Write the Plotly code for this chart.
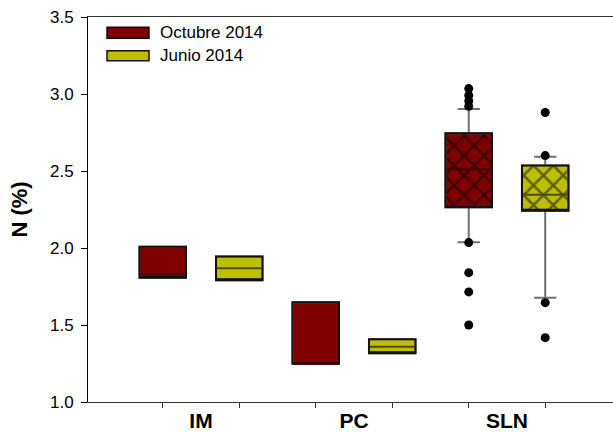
import plotly.graph_objects as go

# Sites and sampling campaigns
sites = ["IM", "PC", "SLN"]
series_names = ["Octubre 2014", "Junio 2014"]

# Box statistics of N (%) per site — October 2014
oct_q1 = [1.807, 1.249, 2.264]
oct_median = [1.829, 1.249, 2.511]
oct_q3 = [2.008, 1.647, 2.745]
oct_lower = [1.807, 1.249, 2.037]
oct_upper = [2.008, 1.647, 2.903]
oct_outliers_sln = [3.035, 2.99, 2.955, 2.92, 2.035, 1.84, 1.715, 1.50]

# Box statistics of N (%) per site — June 2014
jun_q1 = [1.790, 1.316, 2.242]
jun_median = [1.868, 1.359, 2.346]
jun_q3 = [1.944, 1.407, 2.535]
jun_lower = [1.790, 1.316, 1.677]
jun_upper = [1.944, 1.407, 2.593]
jun_outliers_sln = [2.88, 2.60, 1.645, 1.418]

RED = "#800000"
YEL = "#BDBF00"
RED_MED = "#4a0000"
YEL_MED = "#4d4d00"
WHISKER = "#707070"
BOX_W = 0.304
OFFSET = 0.25
FONT = "Liberation Sans, Arial, sans-serif"

centers = [i + 1 for i in range(len(sites))]
oct_x = [c - OFFSET for c in centers]
jun_x = [c + OFFSET for c in centers]

# hatching only on the SLN boxes
hatch = ["", "", "x"]

series = [
    dict(name=series_names[0], x=oct_x, q1=oct_q1, med=oct_median, q3=oct_q3,
         lo=oct_lower, hi=oct_upper, color=RED, medcolor=RED_MED,
         out=oct_outliers_sln),
    dict(name=series_names[1], x=jun_x, q1=jun_q1, med=jun_median, q3=jun_q3,
         lo=jun_lower, hi=jun_upper, color=YEL, medcolor=YEL_MED,
         out=jun_outliers_sln),
]

fig = go.Figure()

# Box bodies as bars (fill + crosshatch)
for s in series:
    fig.add_trace(go.Bar(
        x=s["x"], y=[b - a for a, b in zip(s["q1"], s["q3"])], base=s["q1"],
        width=BOX_W, showlegend=False, hoverinfo="skip",
        marker=dict(color=s["color"], line=dict(width=0),
                    pattern=dict(shape=hatch, size=14, solidity=0.32,
                                 fgcolor="black", fillmode="overlay")),
    ))

# Whiskers with caps (grey)
for s in series:
    fig.add_trace(go.Box(
        x=s["x"], q1=s["q1"], median=s["q1"], q3=s["q3"],
        lowerfence=s["lo"], upperfence=s["hi"], width=BOX_W,
        whiskerwidth=0.48, fillcolor="rgba(0,0,0,0)",
        line=dict(color=WHISKER, width=2), showlegend=False, hoverinfo="skip",
    ))

# Box outlines (black)
for s in series:
    fig.add_trace(go.Box(
        x=s["x"], q1=s["q1"], median=s["q1"], q3=s["q3"],
        lowerfence=s["q1"], upperfence=s["q3"], width=BOX_W,
        fillcolor="rgba(0,0,0,0)", line=dict(color="#111111", width=2),
        showlegend=False, hoverinfo="skip",
    ))

# Median lines
for s in series:
    fig.add_trace(go.Box(
        x=s["x"], q1=s["med"], median=s["med"], q3=s["med"],
        lowerfence=s["med"], upperfence=s["med"], width=BOX_W - 0.01,
        fillcolor="rgba(0,0,0,0)", line=dict(color=s["medcolor"], width=2),
        showlegend=False, hoverinfo="skip",
    ))

# Outlying points for SLN
for s in series:
    fig.add_trace(go.Scatter(
        x=[s["x"][2]] * len(s["out"]), y=s["out"], mode="markers",
        marker=dict(color="black", size=9), showlegend=False, hoverinfo="skip",
    ))

# Legend drawn as swatches + text
legend_rows = [(0.9447, 0.9732), (0.8865, 0.9125)]
for s, (y0, y1) in zip(series, legend_rows):
    fig.add_shape(type="rect", xref="paper", yref="paper",
                  x0=0.0362, x1=0.1162, y0=y0, y1=y1,
                  fillcolor=s["color"], line=dict(color="#111111", width=1.5))
    fig.add_annotation(xref="paper", yref="paper", x=0.1333, y=(y0 + y1) / 2,
                       text=s["name"], showarrow=False, xanchor="left",
                       yanchor="middle", font=dict(size=17, color="black", family=FONT))

fig.update_layout(
    width=613, height=432,
    margin=dict(l=88, r=0, t=17, b=30),
    paper_bgcolor="white", plot_bgcolor="white",
    barmode="overlay", boxmode="overlay",
    showlegend=False,
    font=dict(family=FONT, color="black"),
    xaxis=dict(
        range=[0.2614, 3.693], tickmode="array", tickvals=centers, ticktext=sites,
        ticks="", showgrid=False, zeroline=False, automargin=False,
        showline=True, linecolor="#333333", linewidth=1, mirror=True,
        tickfont=dict(size=21, weight="bold", family=FONT, color="black"),
        ticklabelstandoff=0,
        minor=dict(tickmode="array", tickvals=sorted(oct_x + jun_x),
                   ticks="outside", ticklen=5, tickcolor="#333333", tickwidth=1,
                   showgrid=False),
    ),
    yaxis=dict(
        range=[1.0, 3.5], tickmode="array",
        tickvals=[1.0, 1.5, 2.0, 2.5, 3.0, 3.5], tickformat=".1f",
        ticks="outside", ticklen=6, tickcolor="black", tickwidth=1,
        showgrid=False, zeroline=False, automargin=False,
        showline=True, linecolor="black", linewidth=1,
        tickfont=dict(size=17, family=FONT, color="black"),
        ticklabelstandoff=4,
        title=dict(text="N (%)", standoff=16,
                   font=dict(size=22, weight="bold", family=FONT, color="black")),
    ),
)

fig.write_html("out.html")
